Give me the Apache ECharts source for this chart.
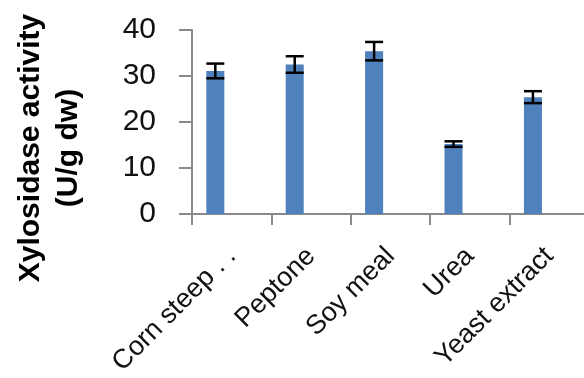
<!DOCTYPE html>
<html><head><meta charset="utf-8">
<script src="https://cdn.jsdelivr.net/npm/echarts@6/dist/echarts.min.js"></script>
<style>html,body{margin:0;padding:0;background:#fff}#c{width:584px;height:378px}</style>
</head><body><div id="c"></div>
<script>
const categories = ['Corn steep . .', 'Peptone', 'Soy meal', 'Urea', 'Yeast extract'];
const activity = [31.1, 32.5, 35.4, 15.2, 25.4];
const errors = [1.6, 1.8, 2.0, 0.6, 1.3];
const yTicks = [0, 10, 20, 30, 40];

const BAR_W = 18, GAP = 0.82;
const barOffset = -(BAR_W * (2 + GAP)) / 2 + BAR_W / 2;

const chart = echarts.init(document.getElementById('c'), null, {renderer: 'canvas'});
chart.setOption({
  backgroundColor: '#fff',
  animation: false,
  grid: {left: 192, right: -5, top: 30, bottom: 164, containLabel: false, outerBoundsMode: 'none'},
  xAxis: {
    type: 'category', data: categories, boundaryGap: true,
    axisLine: {lineStyle: {color: '#8a8a8a', width: 2}},
    axisTick: {show: true, length: 11, lineStyle: {color: '#8a8a8a', width: 2}},
    axisLabel: {interval: 0, rotate: 45, margin: 38, color: '#111',
      fontFamily: 'Liberation Sans', fontSize: 27}
  },
  yAxis: {
    type: 'value', min: yTicks[0], max: yTicks[yTicks.length - 1], interval: 10,
    splitLine: {show: false},
    axisLine: {show: true, lineStyle: {color: '#8a8a8a', width: 2}},
    axisTick: {show: true, length: 13, lineStyle: {color: '#8a8a8a', width: 2}},
    axisLabel: {margin: 36, color: '#111', fontFamily: 'Liberation Sans', fontSize: 30}
  },
  graphic: [{
    type: 'text', x: 50, y: 148, rotation: Math.PI / 2,
    style: {text: 'Xylosidase activity\n(U/g dw)', font: 'bold 30px "Liberation Sans"',
      fill: '#000', align: 'center', verticalAlign: 'middle', lineHeight: 38}
  }],
  series: [
    {type: 'bar', data: activity, barWidth: BAR_W, barGap: (GAP * 100) + '%',
      itemStyle: {color: '#4F81BD'}, silent: true},
    {type: 'bar', data: activity.map(() => '-'), barWidth: BAR_W, silent: true},
    {type: 'custom', silent: true, z: 5,
      data: activity.map((v, i) => [i, v - errors[i], v + errors[i]]),
      renderItem: function (params, api) {
        const lo = api.coord([api.value(0), api.value(1)]);
        const hi = api.coord([api.value(0), api.value(2)]);
        const x = lo[0] + barOffset, hw = BAR_W / 2;
        const st = {stroke: '#000', lineWidth: 2.5};
        return {type: 'group', children: [
          {type: 'line', shape: {x1: x, y1: lo[1], x2: x, y2: hi[1]}, style: st},
          {type: 'line', shape: {x1: x - hw, y1: lo[1], x2: x + hw, y2: lo[1]}, style: st},
          {type: 'line', shape: {x1: x - hw, y1: hi[1], x2: x + hw, y2: hi[1]}, style: st}
        ]};
      }
    }
  ]
});
</script></body></html>
